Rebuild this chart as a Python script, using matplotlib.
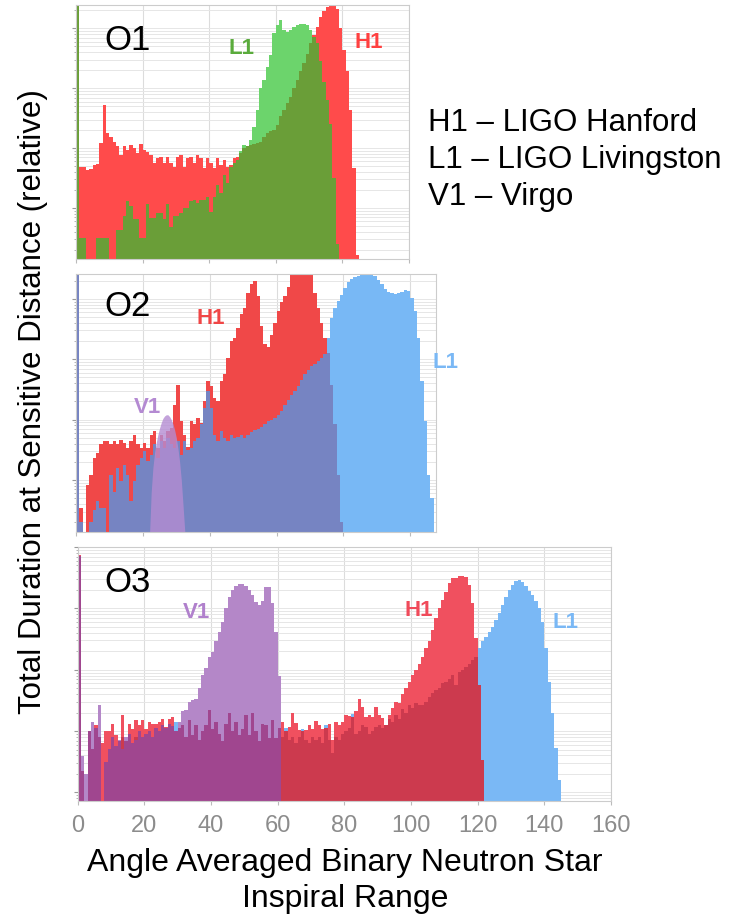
import numpy as np
import matplotlib
matplotlib.use('Agg')
import matplotlib.pyplot as plt
from matplotlib.ticker import NullFormatter, LogLocator

plt.rcParams['font.family'] = ['Liberation Sans', 'DejaVu Sans']

# heights per 1-Mpc bin, stored as log10 of relative duration (-3 = empty bin)
o1_h1 = [3.5, 0.69, 0.69, 0.63, 0.65, 0.72, 0.74, 1.08, 1.72, 1.25,
         1.19, 1.11, 1.03, 0.89, 1.03, 0.97, 1.06, 1.00, 0.92, 1.07,
         0.97, 0.94, 0.89, 0.75, 0.83, 0.86, 0.75, 0.86, 0.75, 0.69,
         0.86, 0.89, 0.69, 0.83, 0.86, 0.75, 0.89, 0.83, 0.67, 0.83,
         0.75, 0.67, 0.83, 0.72, 0.81, 0.69, 0.72, 0.83, 0.86, 0.92,
         1.00, 1.03, 1.06, 1.07, 1.08, 1.11, 1.19, 1.25, 1.28, 1.31,
         1.39, 1.53, 1.64, 1.75, 1.86, 2.00, 2.14, 2.28, 2.42, 2.58,
         2.75, 2.89, 3.03, 3.19, 3.29, 3.35, 3.38, 3.38, 3.33, 3.00,
         2.64, 2.28, 1.64, 0.67, -0.78]
o1_l1 = [3.5, -0.5, -0.5, -3, -3, -3, -0.5, -0.5, -0.5, -0.5,
         -3, -3, -0.36, -0.36, -0.14, 0.11, 0.03, -0.19, -0.19, -0.5,
         -0.5, 0.06, -0.17, -0.17, -0.08, -0.08, -0.19, 0.06, -0.31, -0.14,
         -0.14, -0.08, 0.0, 0.0, 0.11, 0.14, 0.08, 0.14, 0.14, 0.19,
         -0.06, 0.19, 0.39, 0.25, 0.56, 0.42, 0.69, 0.75, 0.80, 0.95,
         1.06, 1.03, 1.14, 1.36, 1.64, 2.00, 2.14, 2.36, 2.56, 2.92,
         3.06, 3.14, 2.97, 2.94, 2.97, 3.03, 3.06, 3.07, 3.08, 3.06,
         2.97, 2.86, 2.75, 2.45, 2.10, 1.80, 1.40, 0.50, -0.60]

o2_h1 = [3.5, -0.46, -3, -0.08, 0.09, 0.36, 0.45, 0.59, 0.64, 0.64,
         0.59, 0.64, 0.59, 0.67, 0.61, 0.53, 0.64, 0.75, 0.59, 0.53,
         0.61, 0.53, 0.75, 0.81, 0.53, 0.75, 0.64, 0.81, 0.86, 1.25,
         1.58, 0.97, 0.75, 0.55, 0.97, 0.92, 1.03, 0.94, 1.30, 1.64,
         1.55, 1.36, 1.30, 1.64, 1.75, 2.02, 2.30, 2.35, 2.52, 2.74,
         2.85, 3.10, 3.24, 3.30, 3.05, 2.55, 2.25, 2.20, 2.40, 2.60,
         2.80, 2.95, 3.05, 3.20, 3.50, 3.50, 3.50, 3.50, 3.50, 3.50,
         3.50, 3.10, 2.85, 2.60, 2.35, 2.10, 1.58, 0.92, 0.09, -0.69]
o2_l1 = [3.5, -0.69, -3, -3, -0.69, -0.5, -0.35, -0.46, -0.46, -3,
         0.09, -0.2, 0.2, -0.02, 0.25, 0.09, -0.35, -0.02, 0.25, 0.36,
         0.48, 0.31, 0.42, 0.59, 0.36, 0.64, 0.53, 0.70, 0.59, 0.53,
         0.64, 0.42, 0.64, 0.50, 0.53, 0.64, 0.70, 0.92, 1.19, 1.47,
         1.19, 0.75, 0.64, 0.81, 0.70, 0.64, 0.75, 0.70, 0.72, 0.75,
         0.70, 0.75, 0.80, 0.82, 0.85, 0.88, 0.92, 0.97, 1.00, 1.03,
         1.08, 1.15, 1.25, 1.32, 1.40, 1.47, 1.55, 1.65, 1.75, 1.82,
         1.88, 1.92, 1.97, 2.02, 2.08, 2.35, 2.68, 2.85, 2.96, 3.07,
         3.18, 3.27, 3.32, 3.36, 3.38, 3.39, 3.41, 3.41, 3.40, 3.37,
         3.31, 3.24, 3.17, 3.12, 3.09, 3.08, 3.09, 3.12, 3.14, 3.13,
         3.02, 2.80, 2.35, 1.64, 0.97, 0.09, -0.30]
o2_v1_x = [22.0, 22.5, 23.0, 23.5, 24.0, 24.5, 25.0, 25.5, 26.0, 26.5, 27.0,
           27.5, 28.0, 28.5, 29.0, 29.5, 30.0, 30.5, 31.0, 31.5, 32.0, 32.6]
o2_v1 = [-0.9, -0.2, 0.2, 0.45, 0.62, 0.75, 0.86, 0.95, 1.02, 1.06, 1.08,
         1.08, 1.05, 1.00, 0.93, 0.83, 0.70, 0.52, 0.30, 0.0, -0.4, -0.9]

o3_h1 = [2.87, -3, -3, 0.0, -0.3, 0.1, -0.1, -0.2, 0.0, 0.0,
         0.12, -0.07, -0.17, 0.26, -0.17, 0.12, 0.04, 0.18, 0.10, 0.18,
         0.04, 0.15, 0.12, 0.12, 0.15, 0.20, 0.07, 0.20, 0.23, -0.05,
         0.05, 0.10, -0.10, 0.18, -0.07, 0.10, -0.15, 0.00, 0.10, 0.34,
         0.04, 0.15, -0.05, -0.17, 0.12, 0.30, 0.00, 0.12, -0.07, 0.04,
         0.26, -0.07, 0.30, 0.00, -0.17, 0.12, 0.10, -0.12, 0.18, -0.12,
         0.05, 0.15, 0.00, 0.07, 0.29, 0.13, 0.02, 0.00, 0.02, 0.10,
         0.04, 0.17, 0.10, 0.04, 0.05, 0.12, -0.15, 0.15, 0.10, 0.15,
         0.26, 0.25, 0.23, 0.32, 0.53, 0.40, 0.23, 0.26, 0.23, 0.40,
         0.26, 0.21, 0.10, 0.26, 0.37, 0.48, 0.45, 0.61, 0.70, 0.80,
         0.91, 0.99, 1.10, 1.21, 1.35, 1.46, 1.65, 1.84, 2.00, 2.14,
         2.27, 2.41, 2.49, 2.50, 2.52, 2.53, 2.51, 2.38, 2.08, 1.51,
         0.75, -0.47]
o3_l1 = [2.85, -0.65, -3, -0.5, -0.6, -0.4, -0.5, -3, -0.6, -0.3,
         -0.2, -0.4, -0.3, -0.1, -0.35, -0.2, -0.25, -0.1, -0.2, -0.15,
         -0.05, -0.2, -0.1, 0.0, -0.1, 0.0, -0.05, 0.05, 0.0, 0.15,
         -0.1, 0.0, -0.15, 0.05, -0.1, 0.0, -0.2, -0.05, 0.0, 0.1,
         -0.05, 0.0, -0.1, -0.2, 0.0, 0.1, -0.05, 0.15, -0.1, 0.0,
         0.1, -0.1, 0.1, -0.1, -0.2, 0.0, 0.0, -0.2, 0.05, -0.2,
         -0.05, -0.1, 0.05, -0.15, -0.1, -0.2, -0.1, 0.04, -0.15, -0.2,
         -0.1, -0.15, -0.1, -0.2, 0.10, -0.15, -0.36, -0.1, -0.15, -0.05,
         0.0, 0.05, 0.27, -0.05, 0.0, 0.1, 0.07, -0.05, 0.0, 0.07,
         0.1, 0.05, 0.1, 0.2, 0.15, 0.26, 0.2, 0.36, 0.3, 0.42,
         0.38, 0.45, 0.42, 0.42, 0.48, 0.56, 0.62, 0.67, 0.70, 0.78,
         0.80, 0.85, 0.91, 0.75, 0.96, 0.99, 1.05, 1.10, 1.16, 1.21,
         1.35, 1.46, 1.54, 1.62, 1.70, 1.81, 1.92, 2.05, 2.19, 2.30,
         2.38, 2.44, 2.46, 2.43, 2.37, 2.29, 2.21, 2.12, 2.00, 1.78,
         1.35, 0.80, 0.29, -0.28, -0.80]
o3_v1 = [2.85, -0.4, -0.7, 0.0, 0.15, 0.05, 0.42, -3, -0.5, -0.3,
         -0.1, -0.25, -0.15, -0.3, -0.1, -0.05, -0.2, -0.15, 0.0, -0.1,
         -0.05, 0.0, -0.1, 0.05, 0.0, 0.1, 0.05, 0.12, 0.08, 0.0,
         0.15, 0.32, 0.34, 0.48, 0.50, 0.53, 0.70, 0.91, 1.02, 1.21,
         1.29, 1.46, 1.62, 1.78, 2.00, 2.19, 2.30, 2.36, 2.40, 2.40,
         2.36, 2.30, 2.22, 2.10, 2.06, 2.12, 2.34, 2.34, 2.08, 1.62,
         0.89]

W, H = 744, 917
fig = plt.figure(figsize=(W / 100, H / 100), dpi=100)


def pad(a, n):
    a = list(a)
    return np.array(a + [-3] * (n - len(a)), float)


def stairs(ax, logs, color, alpha=1.0):
    vals = 10.0 ** np.asarray(logs, float)
    edges = np.arange(len(vals) + 1)
    ax.stairs(vals, edges, fill=True, baseline=1e-4, color=color, lw=0, alpha=alpha)


def panel(left, top, right, bottom, xmax, ylo, yhi, labels=False):
    ax = fig.add_axes([left / W, 1 - bottom / H, (right - left) / W, (bottom - top) / H])
    ax.set_yscale('log')
    ax.set_ylim(10 ** ylo, 10 ** yhi)
    ax.set_xlim(0, xmax)
    ax.set_xticks(np.arange(0, xmax + 1, 20))
    ax.yaxis.set_major_locator(LogLocator(base=10))
    ax.yaxis.set_minor_locator(LogLocator(base=10, subs=np.arange(2, 10)))
    ax.yaxis.set_major_formatter(NullFormatter())
    ax.yaxis.set_minor_formatter(NullFormatter())
    ax.grid(which='major', axis='x', color='#dcdcdc', lw=0.8)
    ax.grid(which='both', axis='y', color='#e6e6e6', lw=0.7)
    ax.set_axisbelow(True)
    ax.tick_params(axis='y', which='major', length=3, color='#999999')
    ax.tick_params(axis='y', which='minor', length=1.5, color='#aaaaaa')
    ax.tick_params(axis='x', length=3, color='#bbbbbb', labelsize=17,
                   labelcolor='#8c8c8c', pad=7)
    for s in ax.spines.values():
        s.set_color('#cccccc')
    if not labels:
        ax.set_xticklabels([])
    return ax


# O1
ax1 = panel(76, 5, 409, 259, 100, -0.85, 3.39)
n = len(o1_h1)
h1, l1 = pad(o1_h1, n), pad(o1_l1, n)
stairs(ax1, h1, '#ff4b4b')
stairs(ax1, l1, '#6cd46c')
stairs(ax1, np.minimum(h1, l1), '#6a9e38')

# O2
ax2 = panel(76, 274, 436, 532, 107.7, -0.86, 3.41)
n = len(o2_l1)
h1, l1 = pad(o2_h1, n), pad(o2_l1, n)
stairs(ax2, h1, '#f04848')
stairs(ax2, l1, '#78b8f5')
stairs(ax2, np.minimum(h1, l1), '#7684c2')
ax2.fill_between(o2_v1_x, 1e-4, 10.0 ** np.array(o2_v1), color='#b48cd2',
                 alpha=0.8, lw=0)

# O3
ax3 = panel(77.5, 547, 611, 801, 160, -1.14, 3.0, labels=True)
n = len(o3_l1)
h1, l1, v1 = pad(o3_h1, n), pad(o3_l1, n), pad(o3_v1, n)
stairs(ax3, l1, '#7ab8f5')
stairs(ax3, h1, '#f0505f')
stairs(ax3, v1, '#b487c8')
stairs(ax3, np.minimum(h1, l1), '#cc3a4e')
stairs(ax3, np.minimum(v1, h1), '#a0468f')
stairs(ax3, np.minimum(v1, l1), '#a0468f')


def ftext(x, y, s, **kw):
    fig.text(x / W, 1 - y / H, s, **kw)


# panel names
for name, y in [('O1', 40), ('O2', 307), ('O3', 583)]:
    ftext(128, y, name, ha='center', va='center', fontsize=25)

# detector tags
tag = dict(ha='center', va='center', fontsize=16, fontweight='bold')
ftext(242, 48, 'L1', color='#5aab3c', **tag)
ftext(369, 42, 'H1', color='#ff4040', **tag)
ftext(211, 318, 'H1', color='#f04646', **tag)
ftext(446, 362, 'L1', color='#7ab8f5', **tag)
ftext(147, 407, 'V1', color='#b48ad2', **tag)
ftext(196, 612, 'V1', color='#b080cc', **tag)
ftext(419, 611, 'H1', color='#f04a5a', **tag)
ftext(566, 622, 'L1', color='#7ab8f5', **tag)

# detector key
for s, y in [('H1 \u2013 LIGO Hanford', 123), ('L1 \u2013 LIGO Livingston', 160),
             ('V1 \u2013 Virgo', 197)]:
    ftext(428, y, s, ha='left', va='center', fontsize=22.5)

ftext(33, 402, 'Total Duration at Sensitive Distance (relative)', rotation=90,
      ha='center', va='center', fontsize=22.5)
ftext(345, 881, 'Angle Averaged Binary Neutron Star\nInspiral Range',
      ha='center', va='center', fontsize=23, linespacing=1.22)

fig.savefig('out.png', dpi=100)
